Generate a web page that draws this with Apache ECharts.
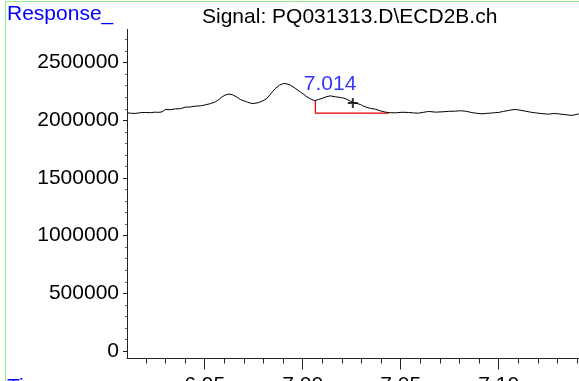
<!DOCTYPE html>
<html>
<head>
<meta charset="utf-8">
<script src="https://cdn.jsdelivr.net/npm/echarts@6/dist/echarts.min.js"></script>
<style>
  html, body { margin: 0; padding: 0; background: #fff; }
  #chart { width: 579px; height: 381px; }
</style>
</head>
<body>
<div id="chart"></div>
<script>
// ECD2B chromatogram segment, retention time (min) vs detector response
const times = [
  6.9106, 6.9126, 6.9146, 6.9172, 6.9197, 6.9223, 6.9249, 6.9266, 6.9283, 6.9300,
  6.9325, 6.9351, 6.9377, 6.9402, 6.9428, 6.9453, 6.9479, 6.9504, 6.9530, 6.9555,
  6.9572, 6.9589, 6.9605, 6.9622, 6.9641, 6.9661, 6.9682, 6.9697, 6.9713, 6.9728,
  6.9742, 6.9758, 6.9774, 6.9796, 6.9818, 6.9840, 6.9861, 6.9882, 6.9903, 6.9920,
  6.9937, 6.9962, 6.9988, 7.0005, 7.0022, 7.0041, 7.0060, 7.0080, 7.0099, 7.0120,
  7.0141, 7.0166, 7.0192, 7.0210, 7.0227, 7.0243, 7.0260, 7.0277, 7.0294, 7.0307,
  7.0320, 7.0346, 7.0371, 7.0397, 7.0422, 7.0448, 7.0473, 7.0507, 7.0541, 7.0566,
  7.0592, 7.0618, 7.0643, 7.0677, 7.0711, 7.0745, 7.0779, 7.0805, 7.0830, 7.0851,
  7.0872, 7.0894, 7.0915, 7.0937, 7.0958, 7.0979, 7.1000, 7.1026, 7.1051, 7.1068,
  7.1084, 7.1110, 7.1136, 7.1162, 7.1187, 7.1221, 7.1255, 7.1281, 7.1306, 7.1340,
  7.1374, 7.1409
];
const response = [
  2064900, 2061000, 2059700, 2066000, 2068300, 2066500, 2070900, 2069000, 2073500, 2094300,
  2092000, 2099500, 2101000, 2114300, 2116000, 2122900, 2125500, 2134200, 2145000, 2160200,
  2180000, 2203500, 2219000, 2226900, 2222600, 2205000, 2181000, 2170000, 2161900, 2152000,
  2146300, 2148000, 2153300, 2168000, 2189600, 2235000, 2276300, 2305000, 2319600, 2316000,
  2304900, 2278000, 2246800, 2226000, 2203500, 2185000, 2170600, 2180000, 2189600, 2204000,
  2212200, 2204000, 2198300, 2192000, 2181000, 2166000, 2153300, 2146000, 2137700, 2126000,
  2116900, 2103000, 2096900, 2082000, 2070900, 2066000, 2064900, 2070000, 2068300, 2064000,
  2062300, 2070000, 2077000, 2071000, 2073500, 2078000, 2079600, 2083000, 2079600, 2072000,
  2064900, 2060000, 2056200, 2060500, 2062300, 2066000, 2068300, 2078000, 2085700, 2091000,
  2094300, 2088000, 2079600, 2071000, 2064900, 2058000, 2053600, 2059000, 2056200, 2049000,
  2042300, 2056200
];

// Integration baseline drawn under the 7.014 peak
const baseTimes = [7.0065, 7.0065, 7.0440];
const baseValues = [2172000, 2062300, 2062300];

// Labelled peak apex and integration cursor
const peakRT = 7.014;
const peakValue = 2212200;
const cursorPoint = [7.0256, 2151000];

// Axis ranges and tick positions
const xRange = [6.9104, 7.141];
const yRange = [-65000, 2787500];
const xMajorTicks = [6.95, 7.00, 7.05, 7.10];
const xMinorTicks = [6.92, 6.93, 6.94, 6.96, 6.97, 6.98, 6.99, 7.01, 7.02, 7.03, 7.04,
                     7.06, 7.07, 7.08, 7.09, 7.11, 7.12, 7.13, 7.14];
const yMajorTicks = [0, 500000, 1000000, 1500000, 2000000, 2500000];
const yMinorTicks = [100000, 200000, 300000, 400000, 600000, 700000, 800000, 900000,
                     1100000, 1200000, 1300000, 1400000, 1600000, 1700000, 1800000, 1900000,
                     2100000, 2200000, 2300000, 2400000, 2600000, 2700000];

const FONT = '"Liberation Sans", Arial, sans-serif';
const FS = 21;
const AXIS_COLOR = '#222';

const trace = times.map((t, i) => [t, response[i]]);
const baseline = baseTimes.map((t, i) => [t, baseValues[i]]);

const chart = echarts.init(document.getElementById('chart'), null, { renderer: 'canvas' });

chart.setOption({
  animation: false,
  backgroundColor: '#fff',
  textStyle: { fontFamily: FONT },
  title: [
    { text: 'Response_', left: 7, top: 4, padding: 0,
      textStyle: { color: '#0000ff', fontSize: FS, fontWeight: 'normal', fontFamily: FONT } },
    { text: 'Signal: PQ031313.D\\ECD2B.ch', left: 202, top: 7, padding: 0,
      textStyle: { color: '#000', fontSize: FS, fontWeight: 'normal', fontFamily: FONT } },
    { text: 'Time', left: 7, top: 377, padding: 0,
      textStyle: { color: '#0000ff', fontSize: FS, fontWeight: 'normal', fontFamily: FONT } }
  ],
  graphic: [
    { type: 'rect', z: -1, silent: true,
      shape: { x: 5.5, y: 1.5, width: 700, height: 500 },
      style: { fill: 'none', stroke: '#8ee88e', lineWidth: 1 } }
  ],
  grid: { left: 127, right: 0, top: 29.5, bottom: 22.5, containLabel: false, outerBoundsMode: 'none' },
  xAxis: [
    {
      type: 'value', min: xRange[0], max: xRange[1],
      axisLine: { show: true, onZero: false, lineStyle: { color: AXIS_COLOR, width: 1 } },
      axisTick: { show: true, length: 11, customValues: xMajorTicks, lineStyle: { color: AXIS_COLOR } },
      axisLabel: { show: true, customValues: xMajorTicks, margin: 16, color: '#000',
                   fontSize: FS, fontFamily: FONT, formatter: v => v.toFixed(2) },
      splitLine: { show: false }
    },
    {
      type: 'value', min: xRange[0], max: xRange[1], position: 'bottom',
      axisLine: { show: false, onZero: false },
      axisTick: { show: true, length: 5, customValues: xMinorTicks, lineStyle: { color: AXIS_COLOR } },
      axisLabel: { show: false },
      splitLine: { show: false }
    }
  ],
  yAxis: [
    {
      type: 'value', min: yRange[0], max: yRange[1],
      axisLine: { show: true, onZero: false, lineStyle: { color: AXIS_COLOR, width: 1 } },
      axisTick: { show: true, length: 4, customValues: yMajorTicks, lineStyle: { color: AXIS_COLOR } },
      axisLabel: { show: true, customValues: yMajorTicks, margin: 8, color: '#000',
                   fontSize: FS, fontFamily: FONT, formatter: v => String(v) },
      splitLine: { show: false }
    },
    {
      type: 'value', min: yRange[0], max: yRange[1], position: 'left',
      axisLine: { show: false, onZero: false },
      axisTick: { show: true, length: 2, customValues: yMinorTicks, lineStyle: { color: '#666' } },
      axisLabel: { show: false },
      splitLine: { show: false }
    }
  ],
  series: [
    {
      name: 'ECD2B', type: 'line', data: trace, xAxisIndex: 0, yAxisIndex: 0,
      showSymbol: false, clip: true,
      lineStyle: { color: '#000', width: 1 }, z: 3
    },
    {
      name: 'baseline', type: 'line', data: baseline,
      showSymbol: false,
      lineStyle: { color: '#e80000', width: 1.2 }, z: 2
    },
    {
      name: 'peak', type: 'scatter', data: [[peakRT, peakValue]],
      symbolSize: 0,
      label: { show: true, position: 'top', distance: 1, color: '#0000ff',
               fontSize: FS, fontFamily: FONT, formatter: p => p.value[0].toFixed(3) },
      z: 4
    },
    {
      name: 'cursor', type: 'scatter', data: [cursorPoint],
      symbol: 'path://M4,0H6V4H10V6H6V10H4V6H0V4H4Z', symbolSize: 10,
      itemStyle: { color: '#000' }, z: 5
    }
  ]
});
</script>
</body>
</html>
